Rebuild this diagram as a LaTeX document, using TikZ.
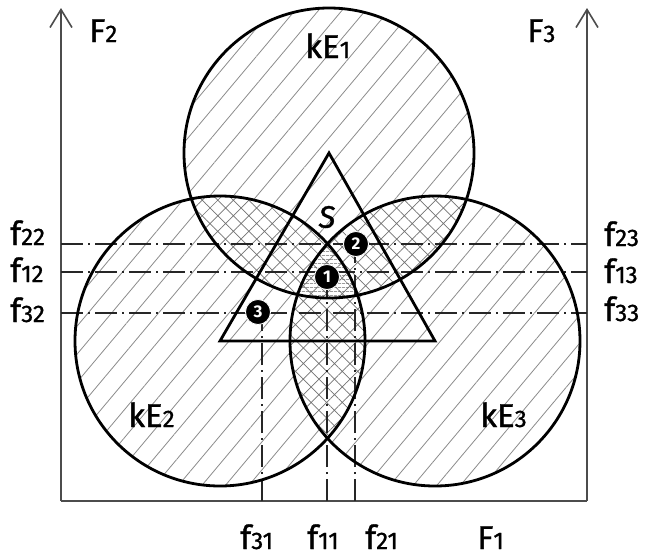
\documentclass[tikz,border=0pt]{standalone}
\usepackage{fontspec}
\setmainfont{Fira Sans}
\newfontfamily\labfont{Fira Sans}[FakeBold=1]
\usetikzlibrary{patterns.meta,arrows.meta}
\newcommand\lb[2]{#1{\fontsize{24}{24}\selectfont#2}}
\begin{document}
\begin{tikzpicture}[x=1pt,y=-1pt,
  circ/.style={line width=2.8pt, black},
  dd/.style={line width=1.6pt, black!85, dash pattern=on 22pt off 5pt on 2pt off 5pt},
  axisline/.style={line width=1.6pt, black!70},
  hatchA/.style={pattern={Lines[angle=50,distance=18pt,line width=0.8pt]}, pattern color=black!45},
  crossB/.style={pattern={Hatch[angle=45,distance=11pt,line width=0.7pt]}, pattern color=black!55},
  denseC/.style={pattern={Lines[angle=0,distance=4pt,line width=0.6pt]}, pattern color=black!60},
  disk/.style={circle, fill=black, draw=white, line width=0.8pt, text=white,
    font=\fontsize{17}{17}\selectfont\bfseries, inner sep=0pt, minimum size=25pt},
  lab/.style={inner sep=0pt, font=\labfont\fontsize{33}{33}\selectfont}
]
\useasboundingbox (0,0) rectangle (651,558);
\fill[white] (0,0) rectangle (651,558);

\coordinate (A) at (329,153);
\coordinate (B) at (220,341);
\coordinate (C) at (435,341);
\def\R{145pt}

% single hatching
\foreach \c in {A,B,C}{
  \fill[hatchA] (\c) circle[radius=\R];
}
% pairwise cross hatching
\begin{scope}
  \clip (A) circle[radius=\R];
  \fill[white] (B) circle[radius=\R];
  \fill[crossB] (B) circle[radius=\R];
  \fill[white] (C) circle[radius=\R];
  \fill[crossB] (C) circle[radius=\R];
\end{scope}
\begin{scope}
  \clip (B) circle[radius=\R];
  \fill[white] (C) circle[radius=\R];
  \fill[crossB] (C) circle[radius=\R];
\end{scope}
% triple intersection
\begin{scope}
  \clip (A) circle[radius=\R];
  \clip (B) circle[radius=\R];
  \fill[white] (C) circle[radius=\R];
  \fill[crossB] (C) circle[radius=\R];
  \fill[denseC] (C) circle[radius=\R];
\end{scope}

% axes
\coordinate (O) at (61,501);
\coordinate (Ltop) at (61,8);
\coordinate (Rb) at (587,501);
\coordinate (Rtop) at (587,8);
\draw[axisline, -{Straight Barb[length=18pt,width=22pt,line width=1.6pt]}] (O) -- (Ltop);
\draw[axisline, -{Straight Barb[length=18pt,width=22pt,line width=1.6pt]}] (Rb) -- (Rtop);
\draw[axisline] (O) -- (Rb);

% points
\node[disk] (p1) at (327,277) {1};
\node[disk] (p2) at (356,244) {2};
\node[disk] (p3) at (258,312) {3};

% dash-dot lines
\coordinate (l22) at (61,244);  \coordinate (r22) at (587,244);
\coordinate (l12) at (61,272);  \coordinate (r12) at (587,272);
\coordinate (l32) at (61,313);  \coordinate (r32) at (587,313);
\coordinate (b31) at (262,501);
\coordinate (b11) at (327,501);
\coordinate (b21) at (355,501);
\draw[dd] (l22) -- (r22);
\draw[dd] (l12) -- (r12);
\draw[dd] (l32) -- (r32);
\draw[dd] (b31) -- (b31 |- p3);
\draw[dd] (b11) -- (p1);
\draw[dd] (b21) -- (b21 |- p2);

% triangle and circles
\draw[circ, line join=miter] (A) -- (B) -- (C) -- cycle;
\foreach \c in {A,B,C}{
  \draw[circ] (\c) circle[radius=\R];
}

% redraw points on top
\node[disk] at (p1) {1};
\node[disk] at (p2) {2};
\node[disk] at (p3) {3};

% labels
\node[lab, anchor=base west] (F2) at (89,42) {\lb{F}{2}};
\node[lab, anchor=base west] (F3) at (527,42) {\lb{F}{3}};
\node[lab, anchor=base west] (kE1) at (305,58) {\lb{kE}{1}};
\node[lab, anchor=base west] (kE2) at (128,427) {\lb{kE}{2}};
\node[lab, anchor=base west] (kE3) at (480,427) {\lb{kE}{3}};
\node[lab, font=\labfont\fontsize{31}{31}\selectfont\itshape] (S) at (327,217) {S};

\node[lab, anchor=base west] (f22) at (10,245) {\lb{f}{22}};
\node[lab, anchor=base west] (f12) at (10,282) {\lb{f}{12}};
\node[lab, anchor=base west] (f32) at (10,322) {\lb{f}{32}};
\node[lab, anchor=base west] (f23) at (604,246) {\lb{f}{23}};
\node[lab, anchor=base west] (f13) at (604,283) {\lb{f}{13}};
\node[lab, anchor=base west] (f33) at (604,321) {\lb{f}{33}};

\node[lab, anchor=base west] (f31) at (240,549) {\lb{f}{31}};
\node[lab, anchor=base west] (f11) at (307,549) {\lb{f}{11}};
\node[lab, anchor=base west] (f21) at (365,549) {\lb{f}{21}};
\node[lab, anchor=base west] (F1) at (477,549) {\lb{F}{1}};
\end{tikzpicture}
\end{document}
